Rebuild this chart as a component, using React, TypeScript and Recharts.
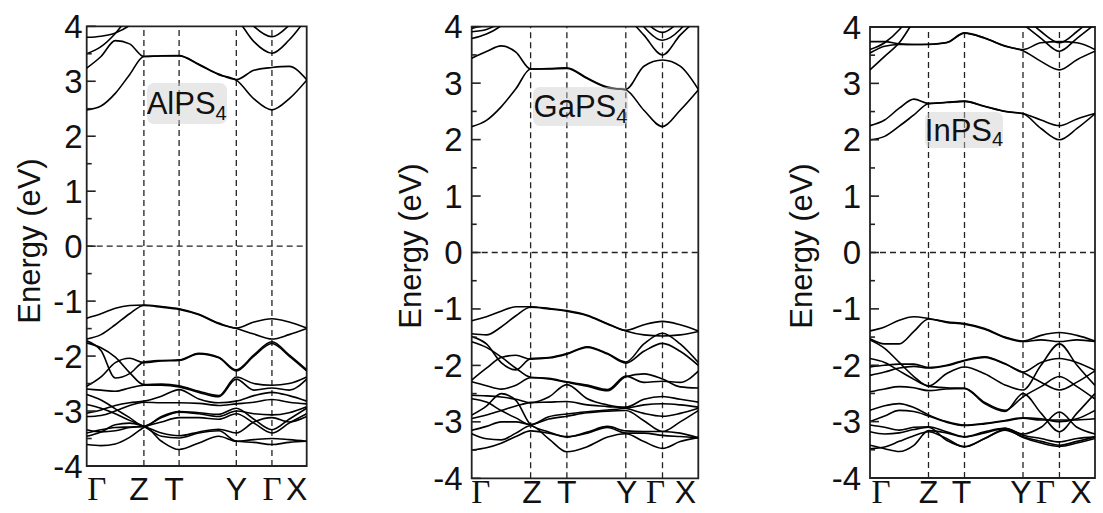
import React from 'react';
import { LineChart, Line, XAxis, YAxis, ReferenceLine, ReferenceArea } from 'recharts';

// k-path sample positions (fraction of path) and high-symmetry points
const kPath = [0, 0.065, 0.13, 0.195, 0.26, 0.34, 0.42, 0.51, 0.6, 0.68, 0.76, 0.842, 0.92, 1.0];
const kTicks = [0, 0.26, 0.42, 0.68, 0.842, 1];
const kLabels = ['Γ', 'Z', 'T', 'Y', 'Γ', 'X'];
const energyTicks = [-4, -3.5, -3, -2.5, -2, -1.5, -1, -0.5, 0, 0.5, 1, 1.5, 2, 2.5, 3, 3.5, 4];

// AlPS4 bands (eV)
const alC1 = [2.48, 2.55, 2.78, 3.12, 3.45, 3.46, 3.46, 3.3, 3.12, 3.02, 2.68, 2.48, 2.68, 3.02];
const alC2 = [3.24, 3.45, 3.74, 3.68, 3.45, 3.465, 3.47, 3.31, 3.13, 3.03, 3.2, 3.25, 3.27, 3.03];
const alC3 = [3.5, 3.63, 3.87, 4.2, 4.5, 4.5, 4.5, 4.5, 4.4, 4.15, 3.72, 3.51, 3.75, 4.15];
const alC4 = [3.8, 3.82, 3.88, 4.02, 4.3, 4.5, 4.5, 4.5, 4.5, 4.4, 4.0, 3.81, 4.02, 4.4];
const alV1 = [-1.31, -1.23, -1.13, -1.08, -1.07, -1.1, -1.14, -1.24, -1.4, -1.49, -1.38, -1.32, -1.38, -1.49];
const alV2 = [-1.69, -1.61, -1.43, -1.23, -1.08, -1.11, -1.15, -1.25, -1.41, -1.5, -1.6, -1.69, -1.61, -1.5];
const alV3 = [-1.72, -1.9, -2.4, -2.32, -2.11, -2.08, -2.07, -1.95, -2.02, -2.25, -1.98, -1.74, -1.98, -2.25];
const alV4 = [-1.76, -1.85, -2.02, -2.3, -2.52, -2.51, -2.54, -2.64, -2.72, -2.38, -2.5, -2.53, -2.5, -2.38];
const alV5 = [-2.55, -2.38, -2.12, -2.04, -2.12, -2.09, -2.08, -1.96, -2.03, -2.27, -2.0, -1.77, -2.0, -2.27];
const alV6 = [-2.6, -2.62, -2.64, -2.58, -2.53, -2.53, -2.56, -2.66, -2.74, -2.42, -2.62, -2.58, -2.62, -2.42];
const alV7 = [-2.7, -2.8, -2.96, -3.12, -3.28, -3.1, -3.01, -3.03, -3.06, -2.95, -3.15, -3.34, -3.15, -2.95];
const alV8 = [-2.88, -2.95, -3.05, -3.17, -3.28, -3.46, -3.49, -3.4, -3.36, -3.55, -3.57, -3.61, -3.57, -3.55];
const alV9 = [-3.04, -2.98, -2.9, -2.85, -2.82, -2.73, -2.61, -2.78, -2.85, -2.82, -2.72, -2.66, -2.72, -2.82];
const alV10 = [-3.1, -3.08, -3.0, -2.9, -2.84, -2.85, -2.85, -2.86, -2.9, -2.87, -2.84, -2.79, -2.84, -2.87];
const alV11 = [-3.34, -3.38, -3.36, -3.3, -3.28, -3.12, -3.02, -3.05, -3.1, -3.0, -3.05, -3.07, -3.03, -2.92];
const alV12 = [-3.4, -3.34, -3.3, -3.29, -3.28, -3.55, -3.7, -3.58, -3.46, -3.55, -3.52, -3.5, -3.52, -3.55];
const alV13 = [-3.61, -3.63, -3.6, -3.48, -3.3, -3.2, -3.12, -3.12, -3.15, -3.05, -3.22, -3.4, -3.22, -3.05];
const alV14 = [-3.46, -3.38, -3.25, -3.22, -3.28, -3.4, -3.45, -3.38, -3.33, -3.4, -3.2, -3.12, -3.2, -3.1];

// GaPS4 bands (eV)
const gaC1 = [2.23, 2.34, 2.58, 2.9, 3.25, 3.25, 3.26, 3.08, 2.92, 2.88, 2.52, 2.23, 2.52, 2.88];
const gaC2 = [3.44, 3.56, 3.66, 3.55, 3.25, 3.26, 3.27, 3.09, 2.93, 2.89, 3.3, 3.41, 3.3, 2.89];
const gaC3 = [3.79, 3.87, 4.02, 4.3, 4.5, 4.5, 4.5, 4.5, 4.5, 4.2, 3.85, 3.5, 3.85, 4.15];
const gaC4 = [3.91, 3.95, 4.1, 4.4, 4.6, 4.6, 4.6, 4.6, 4.6, 4.5, 4.0, 3.76, 3.95, 4.4];
const gaC5 = [3.97, 4.05, 4.2, 4.5, 4.7, 4.7, 4.7, 4.7, 4.7, 4.6, 4.12, 3.9, 4.12, 4.6];
const gaV1 = [-1.21, -1.14, -1.04, -0.96, -0.96, -0.99, -1.03, -1.11, -1.26, -1.38, -1.28, -1.22, -1.28, -1.39];
const gaV2 = [-1.44, -1.46, -1.32, -1.12, -0.97, -1.0, -1.04, -1.12, -1.27, -1.39, -1.46, -1.48, -1.46, -1.4];
const gaV3 = [-1.49, -1.62, -1.95, -2.08, -1.88, -1.86, -1.79, -1.67, -1.79, -1.94, -1.62, -1.43, -1.62, -1.95];
const gaV4 = [-1.58, -1.68, -1.85, -2.05, -2.21, -2.23, -2.29, -2.35, -2.43, -2.19, -2.3, -2.28, -2.3, -2.1];
const gaV5 = [-2.26, -2.05, -1.86, -1.82, -1.89, -1.87, -1.8, -1.68, -1.8, -1.96, -1.75, -1.61, -1.75, -2.0];
const gaV6 = [-2.29, -2.36, -2.42, -2.35, -2.22, -2.24, -2.3, -2.37, -2.45, -2.2, -2.15, -2.24, -2.38, -2.4];
const gaV7 = [-2.53, -2.54, -2.56, -2.6, -2.66, -2.56, -2.34, -2.59, -2.7, -2.74, -2.6, -2.55, -2.6, -2.65];
const gaV8 = [-2.59, -2.65, -2.8, -2.93, -3.05, -2.91, -2.86, -2.82, -2.79, -2.76, -2.7, -2.68, -2.7, -2.74];
const gaV9 = [-2.88, -2.72, -2.5, -2.62, -3.05, -3.18, -3.27, -3.18, -3.08, -3.16, -3.17, -3.17, -3.2, -3.28];
const gaV10 = [-2.94, -2.88, -2.8, -2.72, -2.66, -2.65, -2.64, -2.7, -2.73, -2.76, -2.85, -2.9, -2.85, -2.76];
const gaV11 = [-3.15, -3.08, -3.0, -3.0, -3.05, -2.95, -2.9, -2.84, -2.81, -2.8, -2.98, -3.17, -3.0, -2.8];
const gaV12 = [-3.21, -3.3, -3.32, -3.2, -3.07, -3.3, -3.53, -3.44, -3.27, -3.21, -3.35, -3.47, -3.35, -3.28];
const gaV13 = [-3.5, -3.46, -3.38, -3.26, -3.16, -3.2, -3.26, -3.2, -3.1, -3.2, -3.2, -3.24, -3.26, -3.28];

// InPS4 bands (eV)
const inC1 = [2.0, 2.06, 2.24, 2.44, 2.64, 2.66, 2.68, 2.59, 2.5, 2.46, 2.2, 2.0, 2.2, 2.46];
const inC2 = [2.25, 2.35, 2.56, 2.72, 2.645, 2.665, 2.685, 2.595, 2.505, 2.465, 2.35, 2.25, 2.37, 2.465];
const inC3 = [3.24, 3.48, 3.72, 4.1, 4.4, 4.5, 4.5, 4.45, 4.3, 4.05, 3.8, 3.57, 3.8, 4.05];
const inC4 = [3.54, 3.66, 3.69, 3.69, 3.69, 3.72, 3.89, 3.8, 3.66, 3.58, 3.39, 3.24, 3.42, 3.57];
const inC5 = [3.74, 3.74, 3.7, 3.69, 3.695, 3.725, 3.895, 3.805, 3.665, 3.6, 3.72, 3.74, 3.72, 3.6];
const inC6 = [3.6, 3.72, 3.95, 4.3, 4.5, 4.5, 4.5, 4.5, 4.4, 4.2, 3.92, 3.72, 3.92, 4.2];
const inV1 = [-1.39, -1.32, -1.2, -1.14, -1.17, -1.23, -1.26, -1.35, -1.5, -1.57, -1.47, -1.42, -1.47, -1.57];
const inV2 = [-1.53, -1.62, -1.62, -1.4, -1.18, -1.24, -1.27, -1.36, -1.51, -1.58, -1.55, -1.58, -1.55, -1.58];
const inV3 = [-1.55, -1.7, -1.95, -2.2, -2.37, -2.15, -2.03, -2.15, -2.35, -2.44, -2.0, -1.62, -2.0, -2.36];
const inV4 = [-1.88, -1.95, -2.1, -2.25, -2.37, -2.4, -2.41, -2.68, -2.82, -2.5, -2.85, -3.18, -2.85, -2.5];
const inV5 = [-2.03, -2.0, -1.98, -1.98, -2.04, -2.0, -1.91, -1.85, -1.97, -2.12, -1.95, -1.88, -1.95, -2.09];
const inV6 = [-2.18, -2.12, -2.05, -2.02, -2.05, -2.01, -1.92, -1.86, -1.98, -2.13, -2.3, -2.44, -2.3, -2.1];
const inV7 = [-2.47, -2.42, -2.38, -2.4, -2.45, -2.42, -2.41, -2.66, -2.8, -2.56, -2.38, -2.2, -2.38, -2.6];
const inV8 = [-2.8, -2.72, -2.68, -2.75, -2.88, -3.0, -3.06, -3.03, -2.98, -2.93, -2.95, -3.0, -2.95, -2.8];
const inV9 = [-3.0, -2.9, -2.8, -2.82, -2.9, -3.01, -3.07, -3.04, -2.99, -2.94, -2.97, -2.97, -2.97, -2.95];
const inV10 = [-3.06, -3.1, -3.15, -3.1, -3.09, -3.18, -3.27, -3.18, -3.12, -3.24, -3.3, -3.36, -3.3, -3.27];
const inV11 = [-3.18, -3.22, -3.2, -3.14, -3.1, -3.33, -3.44, -3.3, -3.15, -3.27, -3.35, -3.42, -3.35, -3.27];
const inV12 = [-3.42, -3.48, -3.53, -3.42, -3.16, -3.2, -3.27, -3.2, -3.12, -3.22, -3.1, -2.83, -3.1, -3.22];
const inV13 = [-3.48, -3.45, -3.35, -3.25, -3.18, -3.3, -3.45, -3.3, -3.14, -3.28, -3.38, -3.44, -3.38, -3.3];

const alBands = [alC1, alC2, alC3, alC4, alV1, alV2, alV3, alV4, alV5, alV6, alV7, alV8, alV9, alV10, alV11, alV12, alV13, alV14];
const gaBands = [gaC1, gaC2, gaC3, gaC4, gaC5, gaV1, gaV2, gaV3, gaV4, gaV5, gaV6, gaV7, gaV8, gaV9, gaV10, gaV11, gaV12, gaV13];
const inBands = [inC1, inC2, inC3, inC4, inC5, inC6, inV1, inV2, inV3, inV4, inV5, inV6, inV7, inV8, inV9, inV10, inV11, inV12, inV13];

const SANS = '"Liberation Sans", Arial, sans-serif';
const SERIF = '"Liberation Serif", "Times New Roman", serif';
const INK = '#111';
const W = 1103;
const H = 513;

type Panel = {
  name: string;
  bands: number[][];
  plotLeft: number; plotTop: number; plotRight: number; plotBottom: number;
  tickGap: number; yLabelX: number; yLabelY: number; xBase: number; xDx: number[];
  box: { left: number; top: number; w: number; h: number };
};

const panels: Panel[] = [
  { name: 'AlPS', bands: alBands, plotLeft: 86.7, plotTop: 26.3, plotRight: 306.7, plotBottom: 466,
    tickGap: 4, yLabelX: 29, yLabelY: 241, xBase: 500, xDx: [10, -5, -5, 0, 0, -10],
    box: { left: 146.7, top: 83, w: 80, h: 41 } },
  { name: 'GaPS', bands: gaBands, plotLeft: 471.7, plotTop: 26.7, plotRight: 698.3, plotBottom: 478.3,
    tickGap: 9, yLabelX: 410, yLabelY: 246, xBase: 503, xDx: [9, 1.5, 0, 1, -7, -13],
    box: { left: 533, top: 87, w: 95, h: 39 } },
  { name: 'InPS', bands: inBands, plotLeft: 870, plotTop: 27, plotRight: 1095, plotBottom: 478,
    tickGap: 9, yLabelX: 801, yLabelY: 246, xBase: 503, xDx: [11, 0, -3, -2, -14, -14],
    box: { left: 925, top: 112, w: 78, h: 36 } },
];

function buildRows(bands: number[][]) {
  return kPath.map((k, i) => {
    const row: Record<string, number> = { k };
    bands.forEach((b, j) => { row['b' + j] = b[i]; });
    return row;
  });
}

function AxisTitle({ cx, cy }: { cx: number; cy: number }) {
  return (
    <text x={cx} y={cy} transform={`rotate(-90 ${cx} ${cy})`} textAnchor="middle"
      dominantBaseline="central" fontFamily={SANS} fontSize={31} fill={INK}>
      Energy (eV)
    </text>
  );
}

function PanelChart({ p }: { p: Panel }) {
  const rows = buildRows(p.bands);
  const yAxisW = 60;
  const margin = { top: p.plotTop, left: p.plotLeft - yAxisW, right: W - p.plotRight, bottom: 0 };
  const xAxisH = H - p.plotBottom;
  const renderYTick = (props: any) => {
    const { y, payload } = props;
    const v = payload.value as number;
    const major = Number.isInteger(v);
    return (
      <g>
        <line x1={p.plotLeft} x2={p.plotLeft + (major ? 9 : 5)} y1={y} y2={y} stroke="#222" strokeWidth={1.6} />
        {major && (
          <text x={p.plotLeft - p.tickGap} y={y} textAnchor="end" dominantBaseline="central"
            fontFamily={SANS} fontSize={33} fill={INK}>
            {String(v)}
          </text>
        )}
      </g>
    );
  };
  const renderXTick = (props: any) => {
    const { x, payload, index } = props;
    const i = kTicks.indexOf(payload.value);
    const idx = i >= 0 ? i : index;
    const lab = kLabels[idx];
    const isGamma = lab === 'Γ';
    return (
      <text x={x + p.xDx[idx]} y={p.xBase} textAnchor="middle" fontFamily={isGamma ? SERIF : SANS}
        fontSize={isGamma ? 33 : 32} fill={INK}>
        {lab}
      </text>
    );
  };
  return (
    <div style={{ position: 'absolute', left: 0, top: 0 }}>
      <LineChart width={W} height={H} data={rows} margin={margin}>
        <XAxis type="number" dataKey="k" domain={[0, 1]} ticks={kTicks} allowDataOverflow
          height={xAxisH} axisLine={false} tickLine={false} tick={renderXTick} interval={0} />
        <YAxis type="number" domain={[-4, 4]} ticks={energyTicks} allowDataOverflow width={yAxisW}
          axisLine={false} tickLine={false} tick={renderYTick} interval={0}
          label={<AxisTitle cx={p.yLabelX} cy={p.yLabelY} />} />
        {kTicks.slice(1, 5).map((kv) => (
          <ReferenceLine key={'v' + kv} x={kv} stroke="#222" strokeDasharray="6 4" strokeWidth={1.3} />
        ))}
        <ReferenceLine y={0} stroke="#222" strokeDasharray="6 4" strokeWidth={1.3} />
        {p.bands.map((_, j) => (
          <Line key={'b' + j} dataKey={'b' + j} type="monotone" stroke="#000" strokeWidth={1.6}
            dot={false} activeDot={false} isAnimationActive={false} />
        ))}
        <ReferenceArea x1={0} x2={1} y1={-4} y2={4} fill="none" fillOpacity={0} stroke="#222" strokeWidth={1.8} />
      </LineChart>
    </div>
  );
}

function NameBox({ p }: { p: Panel }) {
  return (
    <div style={{
      position: 'absolute', left: p.box.left, top: p.box.top, width: p.box.w, height: p.box.h,
      background: 'rgba(205,205,205,0.45)', borderRadius: 7, display: 'flex', alignItems: 'center',
      justifyContent: 'center', fontFamily: SANS, fontSize: 31, color: INK, lineHeight: 1,
    }}>
      <span>{p.name}</span>
      <span style={{ fontSize: 20, position: 'relative', top: 9 }}>4</span>
    </div>
  );
}

export default function App() {
  return (
    <div style={{ position: 'absolute', left: 0, top: 0, width: W, height: H, background: '#fff' }}>
      {panels.map((p) => <PanelChart key={p.name} p={p} />)}
      {panels.map((p) => <NameBox key={'n' + p.name} p={p} />)}
    </div>
  );
}
